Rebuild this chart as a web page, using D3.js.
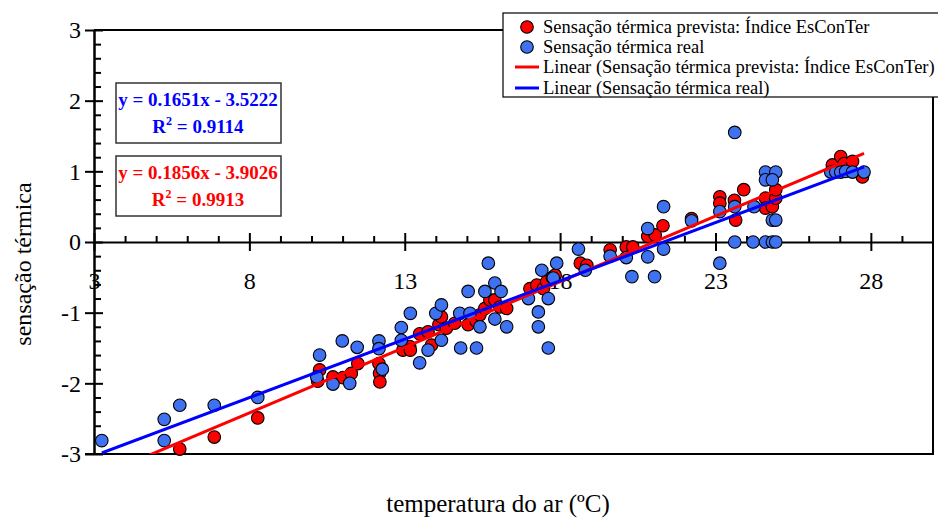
<!DOCTYPE html>
<html lang="pt">
<head>
<meta charset="UTF-8">
<title>sensação térmica</title>
<script src="https://cdn.jsdelivr.net/npm/d3@7"></script>
<style>
  body { margin: 0; background: #fff; }
  svg text { font-family: "Liberation Serif", "Times New Roman", serif; }
</style>
</head>
<body>
<div id="chart"></div>
<script>
// predicted thermal sensation (EsConTer index) - [temperature, value]
var prevista = [
  [5.76,-2.93],[6.87,-2.76],[8.27,-2.49],
  [10.26,-1.81],[10.2,-1.97],[10.69,-1.91],[11.01,-1.92],[11.28,-1.86],[11.49,-1.72],
  [12.17,-1.72],[12.19,-1.86],[12.2,-1.98],[12.94,-1.53],[13.16,-1.48],[13.18,-1.53],
  [13.48,-1.30],[13.75,-1.27],[13.86,-1.46],[14.1,-1.17],[14.18,-1.06],[14.34,-1.22],
  [14.61,-1.15],[15.04,-1.17],[15.3,-1.12],[15.42,-1.03],[15.58,-0.94],[15.74,-0.82],
  [15.9,-0.82],[16.06,-0.92],[16.28,-0.94],[17.03,-0.66],[17.25,-0.61],[17.46,-0.66],
  [17.57,-0.56],[17.75,-0.50],[17.84,-0.47],[18.65,-0.30],[18.86,-0.33],[19.61,-0.11],
  [20.13,-0.07],[20.34,-0.07],[20.82,0.08],[21.06,0.10],[21.31,0.23],[22.23,0.33],
  [23.14,0.64],[23.14,0.55],[23.61,0.59],[23.65,0.31],[23.91,0.74],[24.61,0.62],
  [24.61,0.48],[24.83,0.50],[24.94,0.62],[24.94,0.74],[26.76,1.09],[26.8,1.0],
  [27.03,1.21],[27.14,1.11],[27.41,1.14],[27.73,0.92]
];
// real thermal sensation
var real = [
  [3.25,-2.81],[5.26,-2.51],[5.26,-2.81],[5.76,-2.31],[6.87,-2.31],[8.27,-2.20],
  [10.26,-1.60],[10.17,-1.91],[10.69,-2.01],[10.99,-1.40],[11.23,-2.0],[11.47,-1.49],
  [12.17,-1.40],[12.17,-1.51],[12.28,-1.80],[12.89,-1.21],[12.89,-1.39],[13.18,-1.01],
  [13.48,-1.71],[13.75,-1.53],[14.0,-1.01],[14.18,-0.89],[14.18,-1.39],[14.77,-1.01],
  [15.04,-0.70],[15.1,-1.01],[14.8,-1.50],[15.31,-1.50],[15.69,-0.30],[15.58,-0.70],
  [15.9,-0.58],[16.1,-0.70],[15.9,-1.09],[16.28,-1.20],[15.42,-1.20],[16.98,-0.80],
  [17.41,-0.40],[17.89,-0.30],[17.78,-0.51],[17.62,-0.80],[17.3,-0.99],[17.3,-1.20],
  [17.62,-1.50],[18.59,-0.10],[18.81,-0.40],[19.61,-0.20],[20.13,-0.22],[20.31,-0.49],
  [20.82,0.19],[20.82,-0.21],[21.33,0.50],[21.33,-0.10],[21.04,-0.49],[22.23,0.30],
  [23.14,-0.30],[23.14,0.43],[23.62,0.50],[23.62,0.0],[23.62,1.55],[24.21,0.0],
  [24.24,0.50],[24.61,0.99],[24.94,0.99],[24.61,0.88],[24.83,0.88],[24.83,0.31],
  [24.94,0.31],[24.61,0.0],[24.83,0.0],[24.94,0.0],[26.71,0.99],[26.87,0.99],
  [27.03,0.99],[27.19,1.0],[27.41,0.99],[27.78,0.99]
];
// trendlines (slope, intercept) and their labels
var trendPrevista = [0.1856, -3.9026];
var trendReal = [0.1651, -3.5222];
var eqPrevista = ["y = 0.1856x - 3.9026", "0.9913"];
var eqReal = ["y = 0.1651x - 3.5222", "0.9114"];

var xMajor = [3, 8, 13, 18, 23, 28];
var yMajor = [-3, -2, -1, 0, 1, 2, 3];
var legendLabels = [
  "Sensação térmica prevista: Índice EsConTer",
  "Sensação térmica real",
  "Linear (Sensação térmica prevista: Índice EsConTer)",
  "Linear (Sensação térmica real)"
];

var W = 938, H = 520;
var svg = d3.select("#chart").append("svg").attr("width", W).attr("height", H);

var x = d3.scaleLinear().domain([3, 30]).range([94, 933]);
var y = d3.scaleLinear().domain([-3, 3]).range([454, 30]);

var RED = "#ff0000", BLUE = "#3f72f0";
var SERIF = "Liberation Serif, Times New Roman, serif";
var plain = function(d) { return String(d); };   // "-3", not "−3.0"

// plot frame (top, right, bottom)
svg.append("path")
  .attr("d", "M" + x(3) + "," + y(3) + "H" + x(30) + "V" + y(-3) + "H" + (x(3) - 9))
  .attr("fill", "none").attr("stroke", "#000").attr("stroke-width", 2);

// y axis minor ticks
var yMinor = d3.range(-3, 3.001, 0.2).filter(function(v) { return Math.abs(v - Math.round(v)) > 0.01; });
svg.append("g").attr("transform", "translate(" + x(3) + ",0)")
  .call(d3.axisRight(y).tickValues(yMinor).tickSize(7).tickFormat(""))
  .call(function(g) { g.select(".domain").remove(); g.selectAll("line").attr("stroke-width", 2); });

// y axis major
var gy = svg.append("g").attr("transform", "translate(" + x(3) + ",0)")
  .call(d3.axisLeft(y).tickValues(yMajor).tickFormat(plain).tickSize(9).tickSizeOuter(0));
gy.select(".domain").attr("stroke-width", 2.5);
gy.selectAll(".tick line").attr("x1", 9).attr("stroke-width", 2);
gy.selectAll(".tick text").attr("x", -13).style("font-size", "24px")
  .style("font-family", SERIF).attr("fill", "#000");

// x axis minor ticks
var xMinor = d3.range(4, 30, 1).filter(function(v) { return xMajor.indexOf(v) < 0; });
svg.append("g").attr("transform", "translate(0," + y(0) + ")")
  .call(d3.axisTop(x).tickValues(xMinor).tickSize(6).tickFormat(""))
  .call(function(g) { g.select(".domain").remove(); g.selectAll("line").attr("stroke-width", 2); });

// x axis major
var gx = svg.append("g").attr("transform", "translate(0," + y(0) + ")")
  .call(d3.axisBottom(x).tickValues(xMajor).tickFormat(plain).tickSize(9).tickSizeOuter(0));
gx.select(".domain").attr("stroke-width", 2);
gx.selectAll(".tick line").attr("y1", -9).attr("stroke-width", 2);
gx.selectAll(".tick text").attr("y", 47).attr("dy", 0).style("font-size", "24px")
  .style("font-family", SERIF).attr("fill", "#000");

// markers
function drawPoints(data, color) {
  svg.append("g").selectAll("circle").data(data).enter().append("circle")
    .attr("cx", function(d) { return x(d[0]); })
    .attr("cy", function(d) { return y(d[1]); })
    .attr("r", 6.3)
    .attr("fill", color).attr("stroke", "#000").attr("stroke-width", 1.1);
}
drawPoints(prevista, RED);
drawPoints(real, BLUE);

// trendlines over the data range, clipped to the plot area
svg.append("clipPath").attr("id", "plotclip").append("rect")
  .attr("x", x(3)).attr("y", y(3)).attr("width", x(30) - x(3)).attr("height", y(-3) - y(3));
function drawTrend(data, t, color) {
  var ext = d3.extent(data, function(d) { return d[0]; });
  svg.append("line").attr("clip-path", "url(#plotclip)")
    .attr("x1", x(ext[0])).attr("y1", y(t[0] * ext[0] + t[1]))
    .attr("x2", x(ext[1])).attr("y2", y(t[0] * ext[1] + t[1]))
    .attr("stroke", color).attr("stroke-width", 3);
}
var allX = prevista.concat(real);
drawTrend(allX, trendPrevista, RED);
drawTrend(allX, trendReal, "#0000ff");

// equation boxes
function eqBox(top, lines, color) {
  var g = svg.append("g");
  g.append("rect").attr("x", 116).attr("y", top).attr("width", 165).attr("height", 60)
    .attr("fill", "#fff").attr("stroke", "#333").attr("stroke-width", 1.5);
  g.append("text").attr("x", 198).attr("y", top + 23).attr("text-anchor", "middle")
    .attr("font-size", 19).attr("font-weight", "bold").attr("fill", color).text(lines[0]);
  var t = g.append("text").attr("x", 198).attr("y", top + 50).attr("text-anchor", "middle")
    .attr("font-size", 19).attr("font-weight", "bold").attr("fill", color);
  t.append("tspan").text("R");
  t.append("tspan").attr("font-size", 12).attr("dy", -8).text("2");
  t.append("tspan").attr("dy", 8).text(" = " + lines[1]);
}
eqBox(83, eqReal, "#0000ff");
eqBox(156, eqPrevista, RED);

// legend
var lg = svg.append("g");
lg.append("rect").attr("x", 503).attr("y", 13).attr("width", 450).attr("height", 84)
  .attr("fill", "#fff").attr("stroke", "#000").attr("stroke-width", 1.2);
var ly = [27, 47, 67, 88];
legendLabels.forEach(function(lab, i) {
  if (i < 2) {
    lg.append("circle").attr("cx", 527).attr("cy", ly[i]).attr("r", 6.3)
      .attr("fill", i === 0 ? RED : BLUE).attr("stroke", "#000").attr("stroke-width", 1.1);
  } else {
    lg.append("line").attr("x1", 515).attr("x2", 539).attr("y1", ly[i]).attr("y2", ly[i])
      .attr("stroke", i === 2 ? RED : "#0000ff").attr("stroke-width", 3);
  }
  lg.append("text").attr("x", 543).attr("y", ly[i] + 6).attr("font-size", 18.5)
    .attr("fill", "#000").text(lab);
});

// axis titles
svg.append("text").attr("transform", "translate(31,264) rotate(-90)")
  .attr("text-anchor", "middle").attr("font-size", 24).text("sensação térmica");
svg.append("text").attr("x", 498).attr("y", 512).attr("text-anchor", "middle")
  .attr("font-size", 25).text("temperatura do ar (ºC)");
</script>
</body>
</html>
